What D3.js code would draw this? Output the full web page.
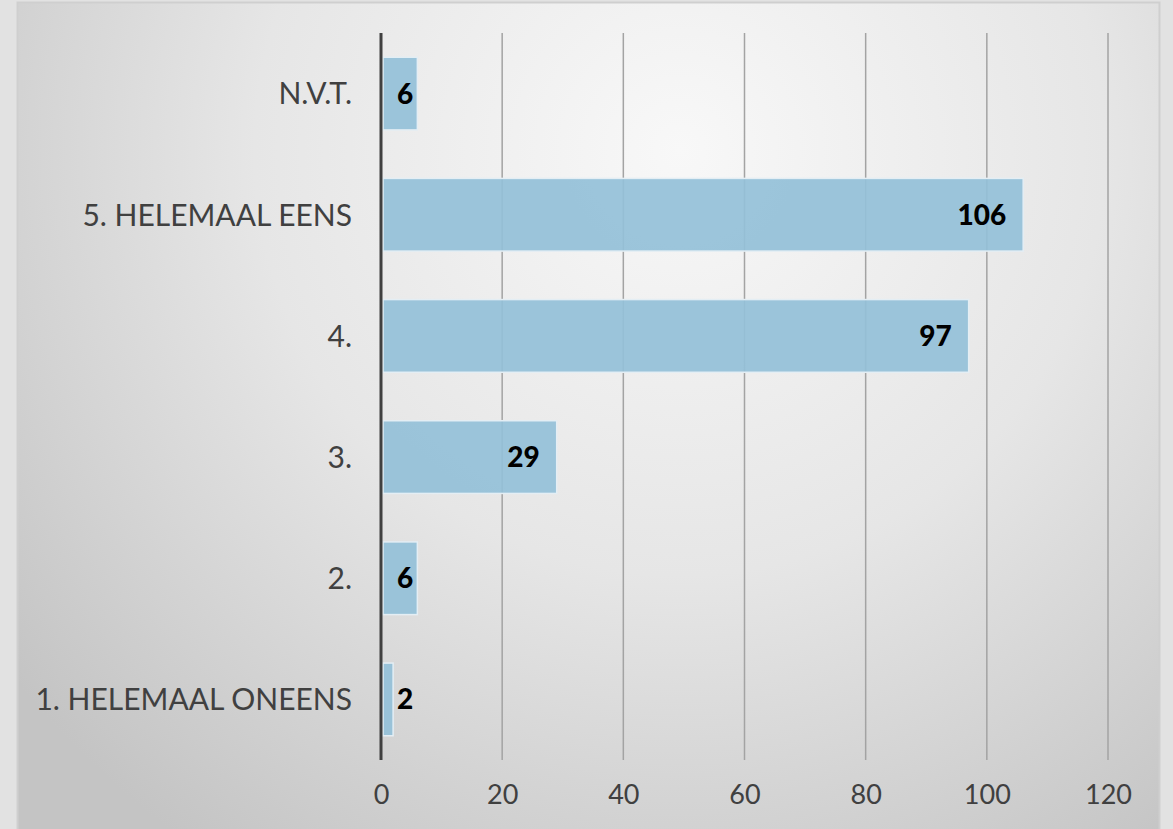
<!DOCTYPE html>
<html>
<head>
<meta charset="utf-8">
<script src="https://cdn.jsdelivr.net/npm/d3@7"></script>
<style>
  html, body { margin: 0; padding: 0; background: #e2e2e2; }
  svg { display: block; }
  text { font-family: "Lato", "Open Sans", sans-serif; }
</style>
</head>
<body>
<script>
// categories top to bottom
var categories = ["N.V.T.", "5. HELEMAAL EENS", "4.", "3.", "2.", "1. HELEMAAL ONEENS"];
var values = [6, 106, 97, 29, 6, 2];
var xTicks = [0, 20, 40, 60, 80, 100, 120];

var W = 1173, H = 829;
var margin = {top: 33, right: 65, bottom: 69, left: 381},
    width = 1108 - margin.left,
    height = 760 - margin.top;

var svg = d3.select("body").append("svg")
    .attr("width", W)
    .attr("height", H);

var defs = svg.append("defs");
var grad = defs.append("radialGradient")
    .attr("id", "bg")
    .attr("gradientUnits", "userSpaceOnUse")
    .attr("cx", 680).attr("cy", 150).attr("r", 850);
grad.append("stop").attr("offset", "0").attr("stop-color", "#f8f8f8");
grad.append("stop").attr("offset", "0.5").attr("stop-color", "#e6e6e6");
grad.append("stop").attr("offset", "1").attr("stop-color", "#c4c4c4");

// panel
svg.append("rect")
    .attr("x", 17.5).attr("y", 2.5)
    .attr("width", 1142).attr("height", 840)
    .attr("fill", "url(#bg)")
    .attr("stroke", "#cfcfcf")
    .attr("stroke-width", 2);

var g = svg.append("g")
    .attr("transform", "translate(" + margin.left + "," + margin.top + ")");

var x = d3.scaleLinear()
    .domain([0, 120])
    .range([0, width]);

var y = d3.scaleBand()
    .domain(categories)
    .range([0, height])
    .paddingInner(0.4)
    .paddingOuter(0.2);

// gridlines
g.selectAll("line.grid")
    .data(xTicks.slice(1))
    .enter().append("line")
    .attr("class", "grid")
    .attr("x1", function(d) { return x(d); })
    .attr("x2", function(d) { return x(d); })
    .attr("y1", 0)
    .attr("y2", height)
    .attr("stroke", "#a3a3a3")
    .attr("stroke-width", 1.5);

// x tick labels
var xAxis = d3.axisBottom(x)
    .tickValues(xTicks)
    .tickSize(0)
    .tickPadding(25);

g.append("g")
    .attr("class", "x axis")
    .attr("transform", "translate(0," + height + ")")
    .call(xAxis)
    .call(function(s) { s.select(".domain").remove(); })
    .selectAll("text")
    .attr("fill", "#404040")
    .style("font-size", "27px");

// bars
g.selectAll("rect.bar")
    .data(values)
    .enter().append("rect")
    .attr("class", "bar")
    .attr("x", x(0) + 2)
    .attr("y", function(d, i) { return y(categories[i]); })
    .attr("width", function(d) { return x(d) - x(0) - 2; })
    .attr("height", y.bandwidth())
    .attr("fill", "#94c0d8")
    .attr("fill-opacity", 0.92)
    .attr("stroke", "#e4eef4")
    .attr("stroke-width", 1.5);

// value labels
g.selectAll("text.val")
    .data(values)
    .enter().append("text")
    .attr("class", "val")
    .attr("y", function(d, i) { return y(categories[i]) + y.bandwidth() / 2; })
    .attr("dy", "0.36em")
    .attr("font-size", "28px")
    .attr("font-weight", "900")
    .attr("fill", "#000")
    .text(function(d) { return d; })
    .each(function(d) {
        var t = d3.select(this);
        var w = this.getComputedTextLength();
        var bw = x(d) - x(0);
        if (bw > w + 34) {
            t.attr("x", x(d) - 17).attr("text-anchor", "end");
        } else {
            t.attr("x", x(0) + 16).attr("text-anchor", "start");
        }
    });

// y axis line and category labels
g.append("line")
    .attr("x1", x(0)).attr("x2", x(0))
    .attr("y1", 0).attr("y2", height)
    .attr("stroke", "#404040")
    .attr("stroke-width", 3);

g.selectAll("text.cat")
    .data(categories)
    .enter().append("text")
    .attr("class", "cat")
    .attr("x", -29)
    .attr("y", function(d) { return y(d) + y.bandwidth() / 2; })
    .attr("dy", "0.36em")
    .attr("text-anchor", "end")
    .attr("font-size", "30px")
    .attr("fill", "#404040")
    .text(function(d) { return d; });
</script>
</body>
</html>
